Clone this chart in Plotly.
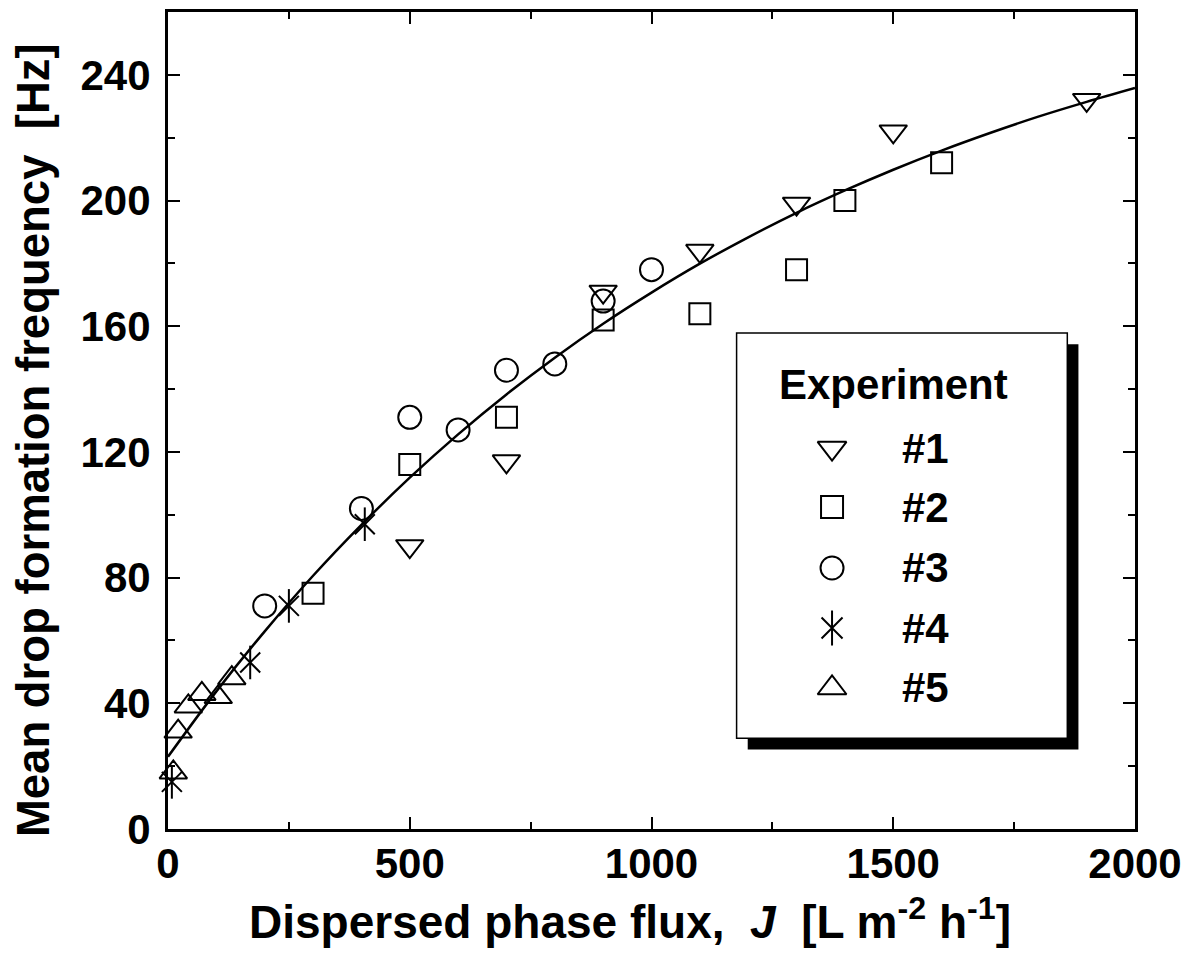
import plotly.graph_objects as go

# ---------------- data ----------------
exp1_x = [500, 700, 900, 1100, 1300, 1500, 1900]
exp1_y = [90, 117, 171, 184, 199, 222, 232]

exp2_x = [300, 500, 700, 900, 1100, 1300, 1400, 1600]
exp2_y = [75, 116, 131, 162, 164, 178, 200, 212]

exp3_x = [200, 400, 500, 600, 700, 800, 900, 1000]
exp3_y = [71, 102, 131, 127, 146, 148, 168, 178]

exp4_x = [8, 170, 250, 407]
exp4_y = [15, 53, 71, 97]

exp5_x = [11, 21, 42, 70, 104, 132]
exp5_y = [18, 31, 39, 43, 42, 48]

fit_x = [0, 100, 200, 300, 400, 500, 600, 700, 800, 900, 1000,
         1100, 1200, 1300, 1400, 1500, 1600, 1700, 1800, 1900, 2000]
fit_y = [23, 43.8, 62.9, 80.6, 96.8, 111.8, 125.6, 138.3, 150.0, 160.8, 170.7,
         179.9, 188.3, 196.1, 203.2, 209.8, 215.9, 221.5, 226.7, 231.4, 235.8]

x_ticks = [0, 500, 1000, 1500, 2000]
y_ticks = [0, 40, 80, 120, 160, 200, 240]

legend_labels = ["#1", "#2", "#3", "#4", "#5"]
legend_title = "Experiment"

FONT = "Liberation Sans, Arial, sans-serif"
MLW = 2

fig = go.Figure()

fig.add_trace(go.Scatter(x=fit_x, y=fit_y, mode="lines", line=dict(color="black", width=2.5, shape="spline"),
                         showlegend=False, hoverinfo="skip"))

def mk(symbol, size):
    return dict(symbol=symbol, size=size, color="black", line=dict(color="black", width=MLW))

fig.add_trace(go.Scatter(x=exp1_x, y=exp1_y, mode="markers", marker=mk("triangle-down-open", 24), cliponaxis=False, showlegend=False))
fig.add_trace(go.Scatter(x=exp2_x, y=exp2_y, mode="markers", marker=mk("square-open", 21), cliponaxis=False, showlegend=False))
fig.add_trace(go.Scatter(x=exp3_x, y=exp3_y, mode="markers", marker=mk("circle-open", 23), cliponaxis=False, showlegend=False))
fig.add_trace(go.Scatter(x=exp4_x, y=exp4_y, mode="markers", marker=mk("line-ns-open", 24), cliponaxis=False, showlegend=False))
fig.add_trace(go.Scatter(x=exp4_x, y=exp4_y, mode="markers", marker=mk("x-thin-open", 20), cliponaxis=False, showlegend=False))
fig.add_trace(go.Scatter(x=exp5_x, y=exp5_y, mode="markers", marker=mk("triangle-up-open", 24), cliponaxis=False, showlegend=False))

# ---------------- manual legend ----------------
box_x0, box_x1, box_y0, box_y1 = 0.588, 0.930, 0.111, 0.607
sh = 0.0115
fig.add_shape(type="rect", xref="paper", yref="paper",
              x0=box_x0 + sh, x1=box_x1 + sh, y0=box_y0 - sh * 1.18, y1=box_y1 - sh * 1.18,
              fillcolor="black", line=dict(color="black", width=0), layer="below")
fig.add_shape(type="rect", xref="paper", yref="paper",
              x0=box_x0, x1=box_x1, y0=box_y0, y1=box_y1,
              fillcolor="white", line=dict(color="black", width=1.5), layer="below")

fig.add_annotation(xref="paper", yref="paper", x=0.750, y=0.5435, text=legend_title, showarrow=False,
                   font=dict(family=FONT, size=42, color="black", weight="bold"), xanchor="center", yanchor="middle")

row_y = [0.4663, 0.3941, 0.3195, 0.2460, 0.1726]
leg_symbols = [["triangle-down-open"], ["square-open"], ["circle-open"], ["line-ns-open", "x-thin-open"], ["triangle-up-open"]]
leg_sizes = [[25], [22], [23], [25, 21], [25]]
for lab, yy, syms, szs in zip(legend_labels, row_y, leg_symbols, leg_sizes):
    fig.add_annotation(xref="paper", yref="paper", x=0.757, y=yy, text=lab, showarrow=False,
                       font=dict(family=FONT, size=42, color="black", weight="bold"), xanchor="left", yanchor="middle")
    for s, sz in zip(syms, szs):
        fig.add_trace(go.Scatter(x=[0.6867], y=[yy], xaxis="x2", yaxis="y2", mode="markers",
                                 marker=mk(s, sz), showlegend=False, cliponaxis=False, hoverinfo="skip"))

# ---------------- axis titles ----------------
fig.add_annotation(xref="paper", yref="paper", x=0.478, y=-0.110,
                   text="Dispersed phase flux,\u00a0\u00a0<i>J</i>\u00a0\u00a0[L m<sup>-2</sup> h<sup>-1</sup>]",
                   showarrow=False, font=dict(family=FONT, size=46, color="black", weight="bold"),
                   xanchor="center", yanchor="middle")
fig.add_annotation(xref="paper", yref="paper", x=-0.1396, y=0.476,
                   text="Mean drop formation frequency\u00a0\u00a0[Hz]", textangle=-90,
                   showarrow=False, font=dict(family=FONT, size=45.5, color="black", weight="bold"),
                   xanchor="center", yanchor="middle")

axis_common = dict(showline=True, linecolor="black", linewidth=3, mirror="allticks",
                   ticks="inside", ticklen=12, tickwidth=2, tickcolor="black",
                   showgrid=False, zeroline=False, automargin=False,
                   tickfont=dict(family=FONT, size=42, color="black", weight="bold"))

fig.update_layout(
    width=1184, height=952,
    margin=dict(l=160, r=57, t=4, b=131, autoexpand=False),
    paper_bgcolor="white", plot_bgcolor="white",
    showlegend=False,
    font=dict(family=FONT, color="black"),
    xaxis=dict(range=[0, 2000], tickmode="array", tickvals=x_ticks, ticktext=[str(v) for v in x_ticks],
               minor=dict(dtick=250, ticks="inside", ticklen=7, tickwidth=2, tickcolor="black"),
               ticklabelstandoff=-4, **axis_common),
    yaxis=dict(range=[0, 260], tickmode="array", tickvals=y_ticks, ticktext=[str(v) for v in y_ticks],
               minor=dict(dtick=20, ticks="inside", ticklen=7, tickwidth=2, tickcolor="black"),
               ticklabelstandoff=6, **axis_common),
    xaxis2=dict(range=[0, 1], overlaying="x", anchor="y2", visible=False),
    yaxis2=dict(range=[0, 1], overlaying="y", anchor="x2", visible=False),
)

fig.write_html("out.html")
